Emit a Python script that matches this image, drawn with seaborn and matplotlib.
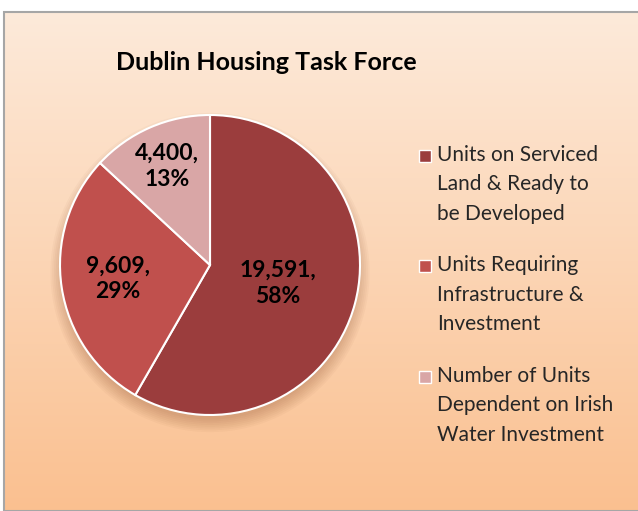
import numpy as np
import matplotlib.pyplot as plt
import seaborn as sns
from matplotlib.colors import LinearSegmentedColormap
from matplotlib.patches import Rectangle, Circle
from matplotlib.legend_handler import HandlerPatch

categories = ["Units on Serviced\nLand & Ready to\nbe Developed",
              "Units Requiring\nInfrastructure &\nInvestment",
              "Number of Units\nDependent on Irish\nWater Investment"]
units = [19591, 9609, 4400]
shares = [58, 29, 13]
colors = sns.color_palette(["#9B3D3D", "#C0504D", "#D9A6A6"])

sns.set_theme(style="white")
plt.rcParams['font.family'] = ['Lato', 'DejaVu Sans']

fig = plt.figure(figsize=(6.38, 5.11), dpi=100)
fig.patch.set_facecolor("white")

# gradient background with grey frame
bg = fig.add_axes([4 / 638, 0, 1 - 4 / 638, 1 - 12 / 511])
grad = LinearSegmentedColormap.from_list("bg", ["#FDEADA", "#FAC090"])
bg.imshow(np.linspace(0, 1, 256).reshape(-1, 1), aspect="auto", cmap=grad,
          extent=[0, 1, 0, 1])
bg.set_xlim(0, 1)
bg.set_ylim(0, 1)
bg.set_axis_off()
bg.add_patch(Rectangle((0, 0), 1.2, 1, transform=bg.transAxes, fill=False,
                       edgecolor="#A6A6A6", linewidth=1.5, clip_on=False))

ax = fig.add_axes([60 / 638, 96 / 511, 300 / 638, 300 / 511])
ax.set_facecolor("none")

# soft shadow below the pie
for i in range(8):
    ax.add_patch(Circle((0.0, -0.05), 0.98 + i * 0.012, color="#7A3A1A",
                        alpha=0.035, zorder=0, linewidth=0, clip_on=False))

wedges, texts = ax.pie(units, colors=colors, startangle=90, counterclock=False,
                       wedgeprops=dict(edgecolor="white", linewidth=1.5),
                       radius=1.0)
dists = [0.47, 0.62, 0.72]
for w, v, s, d in zip(wedges, units, shares, dists):
    theta = np.deg2rad((w.theta1 + w.theta2) / 2)
    ax.text(d * np.cos(theta), d * np.sin(theta), f"{v:,},\n{s}%",
            ha="center", va="center", fontsize=16.5, fontweight="bold",
            color="black", linespacing=1.3, zorder=5)
ax.set_xlim(-1.0, 1.0)
ax.set_ylim(-1.0, 1.0)
ax.set_aspect("equal")
ax.set_axis_off()

fig.text(266 / 638, 1 - 62 / 511, "Dublin Housing Task Force", ha="center",
         va="center", fontsize=18, fontweight="bold", color="black")


def top_square(legend, orig_handle, xdescent, ydescent, width, height, fontsize):
    s = 0.58 * fontsize
    return Rectangle((-xdescent, height - ydescent - s + 0.17 * fontsize), s, s)


leg = fig.legend(wedges, categories, loc="upper left",
                 bbox_to_anchor=(400 / 638, 1 - 126 / 511), frameon=False,
                 fontsize=15, handlelength=0.58, handleheight=4.6,
                 handletextpad=0.3, labelspacing=1.5,
                 handler_map={w: HandlerPatch(patch_func=top_square) for w in wedges})
for t in leg.get_texts():
    t.set_linespacing(1.6)
for h in leg.legend_handles:
    h.set_edgecolor("white")
    h.set_linewidth(1.0)

fig.savefig("out.png", dpi=100)
